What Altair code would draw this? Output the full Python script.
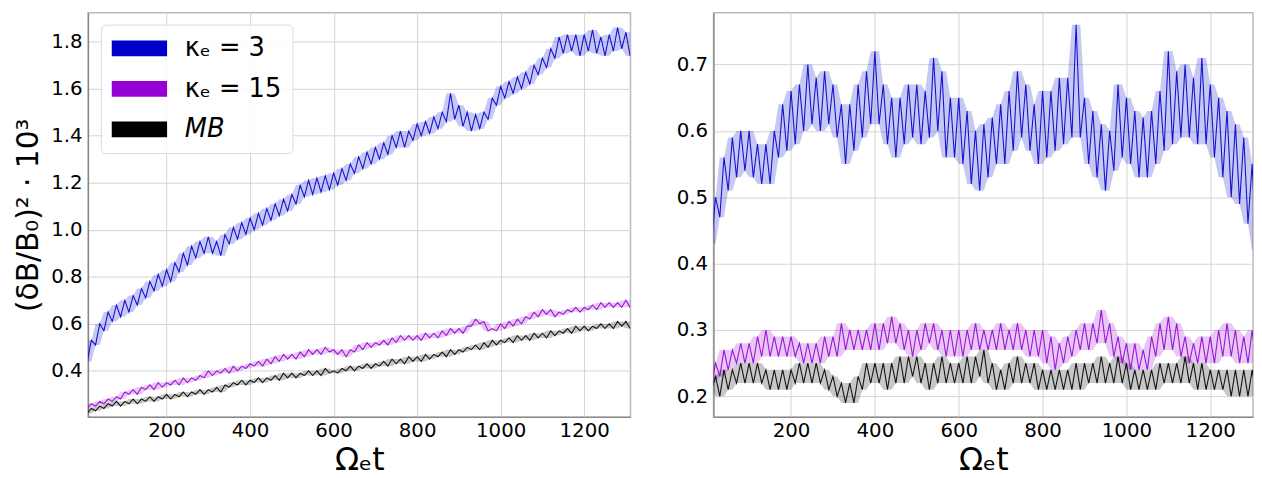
import altair as alt
import pandas as pd

# sample times (Omega_e t)
t = list(range(10, 1311, 10))

# ---- left panel: (dB/B0)^2 * 10^3 ----
left_k3 = [
    0.44, 0.53, 0.51, 0.60, 0.57, 0.65, 0.61, 0.68, 0.63, 0.70,
    0.65, 0.72, 0.68, 0.75, 0.71, 0.78, 0.74, 0.81, 0.76, 0.83,
    0.78, 0.86, 0.82, 0.90, 0.85, 0.93, 0.88, 0.95, 0.90, 0.97,
    0.90, 0.95, 0.89, 0.98, 0.94, 1.01, 0.96, 1.03, 0.98, 1.05,
    1.00, 1.07, 1.02, 1.09, 1.04, 1.11, 1.06, 1.13, 1.08, 1.15,
    1.11, 1.19, 1.14, 1.21, 1.15, 1.22, 1.16, 1.23, 1.17, 1.24,
    1.19, 1.26, 1.21, 1.28, 1.24, 1.31, 1.26, 1.33, 1.28, 1.35,
    1.30, 1.37, 1.32, 1.40, 1.35, 1.42, 1.35, 1.42, 1.38, 1.45,
    1.40, 1.46, 1.41, 1.48, 1.43, 1.50, 1.46, 1.58, 1.47, 1.53,
    1.44, 1.50, 1.42, 1.49, 1.43, 1.50, 1.47, 1.56, 1.53, 1.61,
    1.56, 1.63, 1.58, 1.65, 1.60, 1.67, 1.62, 1.70, 1.66, 1.73,
    1.69, 1.77, 1.73, 1.82, 1.75, 1.83, 1.76, 1.83, 1.74, 1.83,
    1.76, 1.85, 1.75, 1.82, 1.74, 1.83, 1.76, 1.86, 1.77, 1.84,
    1.74,
]
left_k15 = [
    0.24, 0.26, 0.25, 0.27, 0.26, 0.28, 0.27, 0.29, 0.28, 0.31,
    0.30, 0.32, 0.30, 0.33, 0.32, 0.34, 0.32, 0.35, 0.33, 0.35,
    0.34, 0.36, 0.34, 0.37, 0.35, 0.37, 0.36, 0.38, 0.37, 0.40,
    0.38, 0.40, 0.39, 0.41, 0.39, 0.42, 0.40, 0.42, 0.41, 0.43,
    0.42, 0.44, 0.42, 0.45, 0.43, 0.46, 0.44, 0.47, 0.45, 0.47,
    0.45, 0.48, 0.46, 0.49, 0.47, 0.49, 0.47, 0.50, 0.48, 0.49,
    0.47, 0.49, 0.46, 0.49, 0.48, 0.51, 0.49, 0.52, 0.50, 0.52,
    0.51, 0.53, 0.51, 0.54, 0.52, 0.55, 0.53, 0.55, 0.53, 0.55,
    0.53, 0.56, 0.54, 0.56, 0.54, 0.57, 0.55, 0.58, 0.56, 0.58,
    0.56, 0.59, 0.59, 0.62, 0.60, 0.61, 0.57, 0.58, 0.57, 0.60,
    0.58, 0.61, 0.59, 0.62, 0.60, 0.63, 0.62, 0.65, 0.63, 0.66,
    0.64, 0.66, 0.63, 0.65, 0.64, 0.66, 0.65, 0.67, 0.65, 0.67,
    0.66, 0.68, 0.66, 0.69, 0.67, 0.69, 0.67, 0.69, 0.67, 0.70,
    0.67,
]
left_mb = [
    0.22, 0.24, 0.23, 0.25, 0.24, 0.26, 0.25, 0.27, 0.25, 0.27,
    0.26, 0.28, 0.26, 0.28, 0.27, 0.29, 0.27, 0.29, 0.28, 0.30,
    0.28, 0.30, 0.29, 0.31, 0.29, 0.31, 0.30, 0.32, 0.30, 0.32,
    0.31, 0.33, 0.31, 0.34, 0.33, 0.35, 0.34, 0.36, 0.34, 0.36,
    0.35, 0.37, 0.35, 0.37, 0.36, 0.38, 0.36, 0.39, 0.37, 0.39,
    0.37, 0.39, 0.38, 0.40, 0.38, 0.40, 0.38, 0.41, 0.39, 0.40,
    0.39, 0.41, 0.40, 0.42, 0.40, 0.42, 0.41, 0.43, 0.41, 0.43,
    0.42, 0.44, 0.42, 0.45, 0.43, 0.45, 0.43, 0.46, 0.44, 0.46,
    0.44, 0.47, 0.45, 0.47, 0.46, 0.48, 0.46, 0.49, 0.47, 0.49,
    0.48, 0.50, 0.49, 0.51, 0.49, 0.52, 0.50, 0.53, 0.51, 0.53,
    0.52, 0.54, 0.52, 0.55, 0.53, 0.55, 0.53, 0.56, 0.54, 0.56,
    0.54, 0.57, 0.55, 0.57, 0.56, 0.58, 0.56, 0.59, 0.57, 0.59,
    0.57, 0.59, 0.58, 0.60, 0.58, 0.60, 0.58, 0.61, 0.59, 0.61,
    0.58,
]

# ---- right panel ----
right_k3 = [
    0.43, 0.50, 0.47, 0.56, 0.51, 0.59, 0.53, 0.60, 0.54, 0.60,
    0.53, 0.58, 0.52, 0.58, 0.52, 0.60, 0.56, 0.64, 0.57, 0.66,
    0.58, 0.67, 0.60, 0.70, 0.61, 0.68, 0.60, 0.69, 0.61, 0.67,
    0.59, 0.64, 0.55, 0.64, 0.57, 0.67, 0.59, 0.69, 0.61, 0.72,
    0.61, 0.67, 0.58, 0.65, 0.56, 0.65, 0.58, 0.67, 0.59, 0.67,
    0.58, 0.66, 0.59, 0.71, 0.60, 0.69, 0.56, 0.65, 0.56, 0.65,
    0.55, 0.63, 0.52, 0.60, 0.51, 0.61, 0.53, 0.62, 0.55, 0.64,
    0.55, 0.66, 0.57, 0.69, 0.59, 0.67, 0.57, 0.64, 0.55, 0.66,
    0.56, 0.66, 0.57, 0.68, 0.58, 0.68, 0.59, 0.76, 0.59, 0.65,
    0.55, 0.63, 0.53, 0.61, 0.51, 0.60, 0.54, 0.67, 0.56, 0.65,
    0.55, 0.63, 0.53, 0.62, 0.53, 0.63, 0.55, 0.66, 0.57, 0.72,
    0.58, 0.69, 0.59, 0.70, 0.59, 0.68, 0.58, 0.71, 0.58, 0.67,
    0.56, 0.65, 0.53, 0.63, 0.50, 0.61, 0.49, 0.59, 0.46, 0.55,
    0.42,
]
right_k15 = [
    0.22, 0.25, 0.23, 0.27, 0.24, 0.27, 0.25, 0.28, 0.25, 0.28,
    0.25, 0.29, 0.26, 0.30, 0.26, 0.29, 0.26, 0.29, 0.26, 0.29,
    0.26, 0.28, 0.25, 0.28, 0.25, 0.28, 0.25, 0.29, 0.26, 0.29,
    0.26, 0.31, 0.27, 0.30, 0.27, 0.30, 0.27, 0.30, 0.27, 0.31,
    0.27, 0.31, 0.28, 0.32, 0.28, 0.31, 0.27, 0.30, 0.26, 0.30,
    0.27, 0.31, 0.28, 0.31, 0.27, 0.30, 0.26, 0.30, 0.26, 0.30,
    0.26, 0.30, 0.27, 0.31, 0.27, 0.30, 0.27, 0.30, 0.27, 0.31,
    0.27, 0.30, 0.27, 0.31, 0.27, 0.30, 0.26, 0.30, 0.26, 0.30,
    0.25, 0.29, 0.24, 0.28, 0.25, 0.29, 0.26, 0.30, 0.27, 0.31,
    0.27, 0.31, 0.28, 0.33, 0.28, 0.31, 0.26, 0.29, 0.25, 0.28,
    0.24, 0.28, 0.24, 0.27, 0.24, 0.29, 0.26, 0.31, 0.27, 0.32,
    0.27, 0.31, 0.26, 0.29, 0.25, 0.28, 0.25, 0.29, 0.25, 0.29,
    0.25, 0.30, 0.26, 0.31, 0.26, 0.30, 0.25, 0.29, 0.25, 0.30,
    0.25,
]
right_mb = [
    0.21, 0.23, 0.20, 0.24, 0.21, 0.24, 0.22, 0.25, 0.22, 0.25,
    0.22, 0.25, 0.22, 0.24, 0.21, 0.24, 0.21, 0.24, 0.21, 0.24,
    0.22, 0.25, 0.22, 0.25, 0.22, 0.25, 0.22, 0.24, 0.21, 0.23,
    0.20, 0.22, 0.19, 0.22, 0.19, 0.23, 0.21, 0.25, 0.22, 0.25,
    0.22, 0.25, 0.21, 0.25, 0.22, 0.26, 0.22, 0.26, 0.23, 0.26,
    0.22, 0.25, 0.21, 0.25, 0.22, 0.26, 0.22, 0.25, 0.22, 0.25,
    0.22, 0.26, 0.22, 0.26, 0.23, 0.27, 0.22, 0.25, 0.21, 0.24,
    0.21, 0.25, 0.22, 0.26, 0.22, 0.25, 0.22, 0.25, 0.21, 0.24,
    0.21, 0.24, 0.21, 0.24, 0.21, 0.24, 0.21, 0.25, 0.21, 0.25,
    0.22, 0.25, 0.22, 0.26, 0.22, 0.25, 0.22, 0.26, 0.22, 0.25,
    0.21, 0.24, 0.21, 0.24, 0.21, 0.24, 0.21, 0.25, 0.22, 0.25,
    0.22, 0.25, 0.22, 0.26, 0.22, 0.25, 0.21, 0.25, 0.21, 0.24,
    0.21, 0.24, 0.21, 0.24, 0.20, 0.24, 0.20, 0.24, 0.20, 0.24,
    0.20,
]

series_names = ["κₑ = 3", "κₑ = 15", "MB"]
series_colors = ["#0000cc", "#9400d3", "#000000"]
x_ticks = [200, 400, 600, 800, 1000, 1200]
left_y_ticks = [0.4, 0.6, 0.8, 1.0, 1.2, 1.4, 1.6, 1.8]
right_y_ticks = [0.2, 0.3, 0.4, 0.5, 0.6, 0.7]

for arr in (left_k3, left_k15, left_mb, right_k3, right_k15, right_mb):
    assert len(arr) == len(t), len(arr)


def make_df(arrs):
    frames = []
    for k, (name, arr) in enumerate(zip(series_names, arrs)):
        s = pd.Series(arr, dtype=float)
        frames.append(pd.DataFrame({
            "t": t, "v": arr, "series": name, "k": k,
            # envelope of the read noisy values (neighbouring samples)
            "lo": s.rolling(3, center=True, min_periods=1).min(),
            "hi": s.rolling(3, center=True, min_periods=1).max(),
        }))
    return pd.concat(frames, ignore_index=True)


FONT = "DejaVu Sans"
color_scale = alt.Scale(domain=series_names, range=series_colors)


def panel(df, xdom, ydom, yvals, ytitle, width, legend):
    if ytitle is None:
        yaxis = alt.Axis(values=yvals, format=".1f", title=None)
    else:
        yaxis = alt.Axis(values=yvals, format=".1f", title=ytitle)
    x = alt.X("t:Q", scale=alt.Scale(domain=xdom, nice=False, zero=False),
              axis=alt.Axis(values=x_ticks, format="d", title="Ωₑt"))
    base = alt.Chart(df)
    band = base.mark_area(opacity=0.22, clip=True).encode(
        x=x,
        y=alt.Y("lo:Q", scale=alt.Scale(domain=ydom, nice=False, zero=False),
                axis=yaxis),
        y2="hi:Q",
        color=alt.Color("series:N", scale=color_scale, legend=legend),
        detail="k:O",
    )
    line = base.mark_line(strokeWidth=1.1, opacity=0.9, clip=True).encode(
        x=x,
        y=alt.Y("v:Q", scale=alt.Scale(domain=ydom, nice=False, zero=False)),
        color=alt.Color("series:N", scale=color_scale, legend=legend),
        detail="k:O",
    )
    return alt.layer(band, line).properties(width=width, height=409)


leg = alt.Legend(
    title=None, orient="none", legendX=13, legendY=12,
    symbolType="M-1,-1L6,-1L6,1L-1,1Z", symbolSize=256, symbolStrokeWidth=0,
    symbolStrokeColor="transparent",
    symbolOffset=-5, symbolOpacity=1,
    symbolFillColor={"expr": "datum.label == 'MB' ? '#000000' : (datum.label == 'κₑ = 15' ? '#9400d3' : '#0000cc')"},
    labelFont=FONT, labelFontSize=26, labelOffset=53, labelLimit=0,
    rowPadding=15, padding=11,
    fillColor="rgba(255,255,255,0.85)", strokeColor="#d9d9d9", cornerRadius=5,
    labelFontStyle={"expr": "datum.label == 'MB' ? 'italic' : 'normal'"},
)

left = panel(make_df([left_k3, left_k15, left_mb]), [12, 1311], [0.204, 1.923],
             left_y_ticks, "(δB/B₀)² · 10³", 549, leg)
right = panel(make_df([right_k3, right_k15, right_mb]), [15, 1302], [0.169, 0.778],
              right_y_ticks, None, 546, None)

chart = (
    alt.hconcat(left, right, spacing=44)
    .resolve_scale(color="independent")
    .properties(padding={"left": 5, "top": 1, "right": 0, "bottom": 0})
    .configure_view(stroke="#bbbbbb", strokeWidth=1.5)
    .configure_axis(
        labelFont=FONT, labelFontSize=20, labelColor="black",
        titleFont=FONT, titleFontWeight="normal", titleColor="black",
        grid=True, gridColor="#d4d4d4", gridWidth=1,
        domainColor="#888888", domainWidth=1.3, ticks=False,
    )
    .configure_axisX(labelPadding=4, titlePadding=4, titleFontSize=32)
    .configure_axisY(labelPadding=6, titlePadding=7, titleFontSize=30)
)

chart.save("out.html", embed_options={"renderer": "svg", "actions": False})
